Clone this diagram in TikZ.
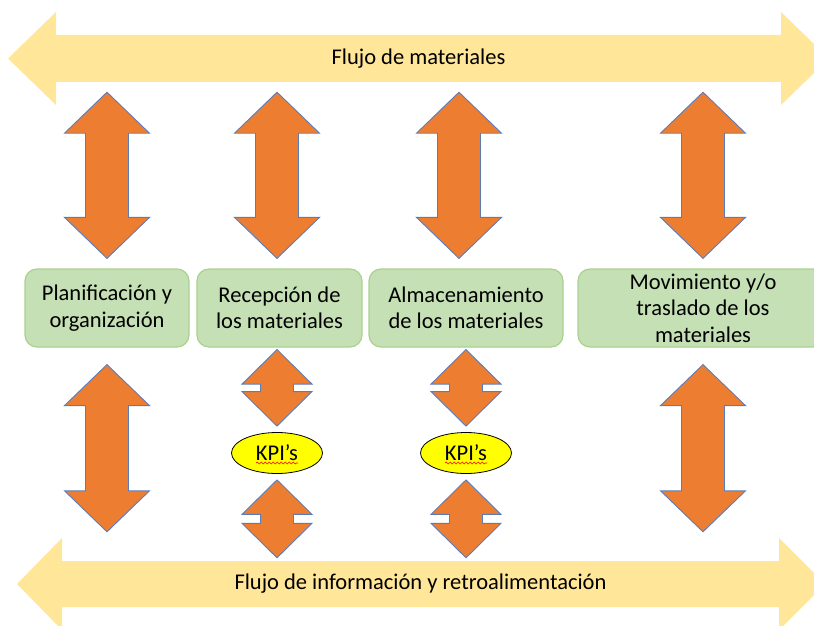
\documentclass[tikz,border=0pt]{standalone}
\usepackage{fontspec}
\setmainfont{Carlito}
\usetikzlibrary{calc,shapes.geometric,decorations.pathmorphing}
\definecolor{flowyellow}{HTML}{FFE699}
\definecolor{arroworange}{HTML}{ED7D31}
\definecolor{arrowedge}{HTML}{5A7DB9}
\definecolor{boxgreen}{HTML}{C5E0B4}
\definecolor{boxedge}{HTML}{A9D18E}
\definecolor{kpiyellow}{HTML}{FFFF00}

\begin{document}
\begin{tikzpicture}[
    x=1pt, y=-1pt,
    txt/.style={font=\fontsize{22.5}{26.5}\selectfont, text=black, align=center},
    flow/.style={fill=flowyellow},
    flowlabel/.style={txt, inner sep=0pt},
    stage/.style={txt, rectangle, draw=boxedge, line width=1.2pt, fill=boxgreen, rounded corners=12pt, minimum height=78pt, inner sep=2pt},
    kpi/.style={txt, ellipse, draw=black, line width=0.8pt, fill=kpiyellow, minimum width=91pt, minimum height=41pt, inner sep=0pt},
    orangearrow/.style={fill=arroworange, draw=arrowedge, line width=0.9pt, line join=miter},
    dblarrow/.style n args={3}{to path={let \p1=(\tikztostart), \p2=(\tikztotarget) in
        -- (\x1+#1,\y1-#3) -- (\x1+#2,\y1-#3) -- (\x1+#2,\y2+#3) -- (\x1+#1,\y2+#3)
        -- (\x2,\y2) -- (\x1-#1,\y2+#3) -- (\x1-#2,\y2+#3) -- (\x1-#2,\y1-#3)
        -- (\x1-#1,\y1-#3) -- cycle}},
    bigarrow/.style={dblarrow={42.5pt}{21.5pt}{41pt}},
    smallarrow/.style={dblarrow={35pt}{16.5pt}{34.5pt}},
    squiggle/.style={red, line width=0.6pt, decorate, decoration={snake, segment length=4pt, amplitude=0.9pt}}
]
\useasboundingbox (0,0) rectangle (814,626);
\clip (0,0) rectangle (814,626);

% Flows
\fill[flow] (8,58.5) -- (56,12) -- (56,35) -- (781,35) -- (781,12) -- (829,58.5)
    -- (781,105) -- (781,82) -- (56,82) -- (56,105) -- cycle;
\node[flowlabel, minimum width=725pt, minimum height=47pt] (matflow) at (418.5,58.5) {Flujo de materiales};

\fill[flow] (17,584) -- (62,538) -- (62,561) -- (779,561) -- (779,538) -- (825,584)
    -- (779,630) -- (779,607) -- (62,607) -- (62,630) -- cycle;
\node[flowlabel, minimum width=717pt, minimum height=46pt] (infoflow) at (420.5,584) {Flujo de información y retroalimentación};

% Stages
\node[stage, minimum width=164pt] (plan) at (107,308) {Planificación y\\organización};
\node[stage, minimum width=165pt] (recep) at (279.5,308) {Recepción de\\los materiales};
\node[stage, minimum width=194pt] (almac) at (466,308) {Almacenamiento\\de los materiales};
\node[stage, minimum width=250pt] (movim) at (703,308) {Movimiento y/o\\traslado de los\\materiales};

% KPIs
\node[kpi] (kpirec) at (277,453) {KPI’s};
\node[kpi] (kpialm) at (466,453) {KPI’s};
\foreach \k in {kpirec,kpialm}
    \draw[squiggle] ($(\k.center)+(-21,10)$) -- ($(\k.center)+(21,10)$);

% Material flow <-> stages
\foreach \b/\dx in {plan/0,recep/-2.5,almac/-7,movim/0}
    \draw[orangearrow] ($(matflow.south -| \b.north)+(\dx,10)$) to[bigarrow] ($(\b.north)+(\dx,-10)$);

% Stages <-> information flow
\foreach \b in {plan,movim}
    \draw[orangearrow] ($(\b.south)+(0,17)$) to[bigarrow] ($(infoflow.north -| \b.south)+(0,-29)$);

% Stages <-> KPIs <-> information flow
\foreach \k/\b in {kpirec/recep,kpialm/almac} {
    \draw[orangearrow] ($(\b.south -| \k.north)+(0,2)$) to[smallarrow] ($(\k.north)+(0,-6)$);
    \draw[orangearrow] ($(\k.south)+(0,6)$) to[smallarrow] ($(infoflow.north -| \k.south)+(0,-3)$);
}

\end{tikzpicture}
\end{document}
